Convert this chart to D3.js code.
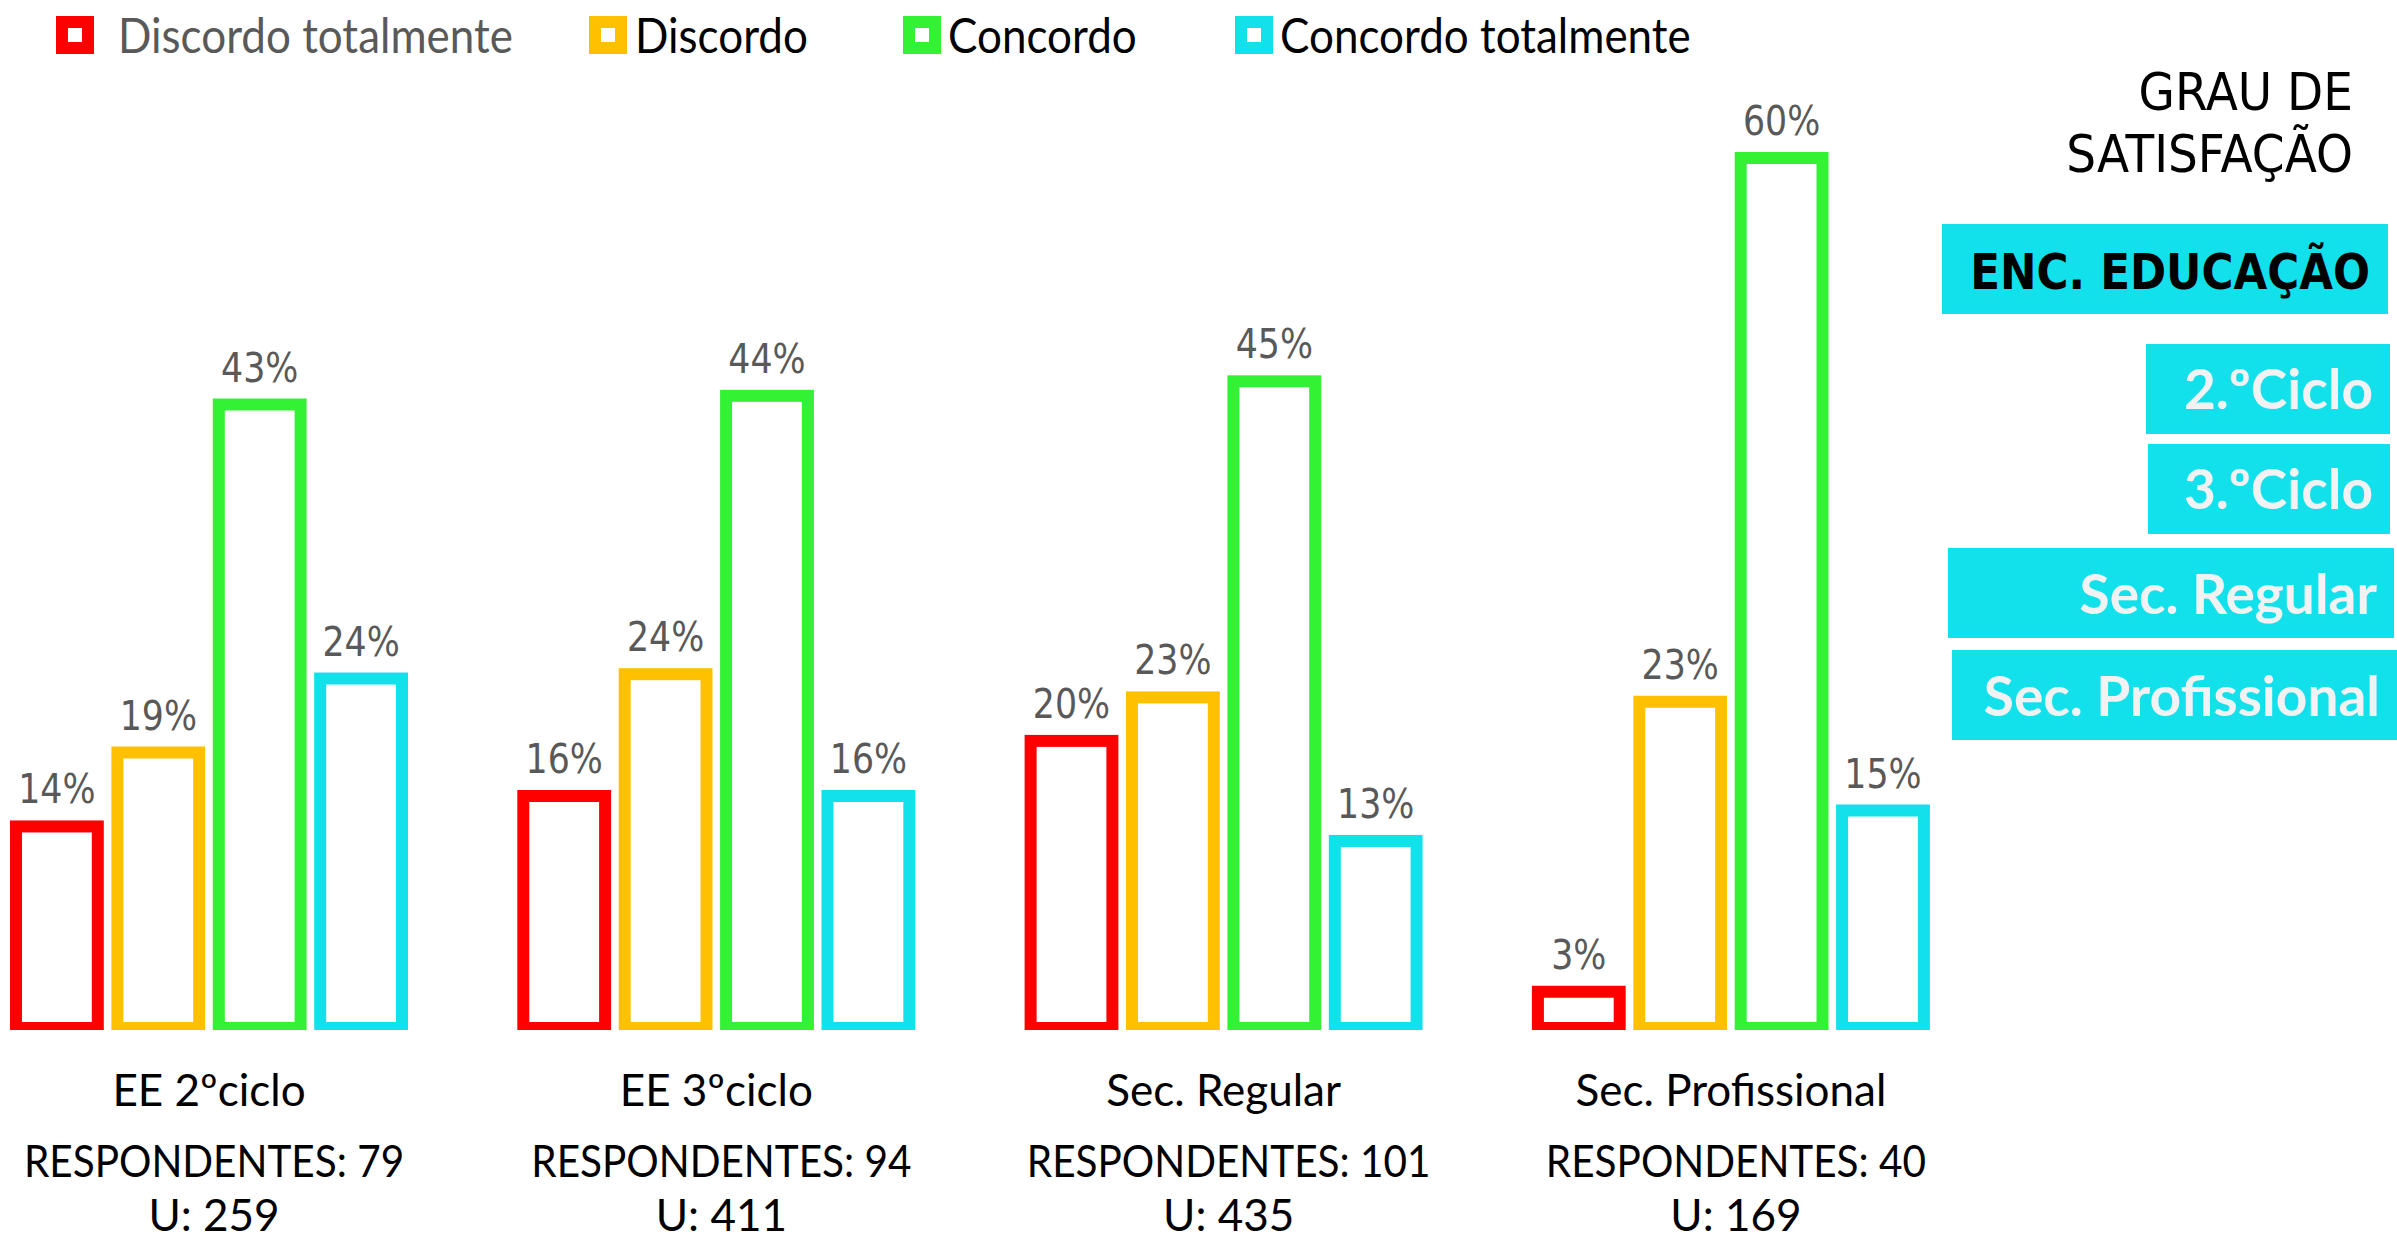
<!DOCTYPE html>
<html>
<head>
<meta charset="utf-8">
<script src="https://cdn.jsdelivr.net/npm/d3@7/dist/d3.min.js"></script>
<style>
  html, body { margin: 0; padding: 0; background: #ffffff; }
  svg { display: block; }
</style>
</head>
<body>
<script>
// ---------------- DATA ----------------
const categories = ["EE 2ºciclo", "EE 3ºciclo", "Sec. Regular", "Sec. Profissional"];
const series = ["Discordo totalmente", "Discordo", "Concordo", "Concordo totalmente"];
const discordoTotalmente = [13.9, 16.0, 19.8, 2.5];
const discordo = [19.0, 24.4, 22.8, 22.5];
const concordo = [43.0, 43.6, 44.6, 60.0];
const concordoTotalmente = [24.1, 16.0, 12.9, 15.0];
const respondentes = [79, 94, 101, 40];
const universo = [259, 411, 435, 169];
const panelTitle = ["GRAU DE", "SATISFAÇÃO"];
const panelHeader = "ENC. EDUCAÇÃO";
const panelItems = ["2.ºCiclo", "3.ºCiclo", "Sec. Regular", "Sec. Profissional"];
const seriesColors = ["#FF0000", "#FFC000", "#33F133", "#12E1EB"];

const seriesValues = [discordoTotalmente, discordo, concordo, concordoTotalmente];

// ---------------- LAYOUT ----------------
const W = 2397, H = 1239;
const svg = d3.select("body").append("svg").attr("width", W).attr("height", H);

const groupStart = -44.6, groupStep = 507.3;
const x0 = d3.scaleBand().domain(categories)
  .range([groupStart, groupStart + groupStep * categories.length]).padding(0);
const x1 = d3.scaleBand().domain(series).range([54.6, 452.6]).paddingInner(0.075);
const baseY = 1028;
const y = d3.scaleLinear().domain([0, 100]).range([baseY, baseY - 1450]);
const SW = 12;

svg.append("defs").append("clipPath").attr("id", "plotclip")
  .append("rect").attr("x", 0).attr("y", 0).attr("width", W).attr("height", 1030);

const rows = [];
categories.forEach((c, ci) => {
  series.forEach((s, si) => {
    rows.push({ c, s, si, v: seriesValues[si][ci] });
  });
});

const plot = svg.append("g").attr("clip-path", "url(#plotclip)");
plot.selectAll("rect.bar").data(rows).join("rect")
  .attr("class", "bar")
  .attr("x", d => x0(d.c) + x1(d.s) + SW / 2)
  .attr("width", x1.bandwidth() - SW)
  .attr("y", d => y(d.v))
  .attr("height", d => y(0) - y(d.v))
  .attr("fill", "#ffffff")
  .attr("stroke", d => seriesColors[d.si])
  .attr("stroke-width", SW);

// value labels
svg.selectAll("g.vlabel").data(rows).join("g")
  .attr("class", "vlabel")
  .attr("transform", d => `translate(${x0(d.c) + x1(d.s) + x1.bandwidth() / 2},${y(d.v) - 23}) scale(1,1.18)`)
  .append("text")
  .attr("text-anchor", "middle")
  .attr("font-family", "'DejaVu Sans', Verdana, sans-serif")
  .attr("font-size", 34.8)
  .attr("fill", "#595959")
  .text(d => Math.round(d.v) + "%");

// category labels
const catG = svg.append("g").attr("font-family", "Lato, 'Open Sans', sans-serif").attr("fill", "#000");
catG.selectAll("text.cat").data(categories).join("text")
  .attr("class", "cat")
  .attr("x", c => x0(c) + x0.bandwidth() / 2)
  .attr("y", 1106)
  .attr("font-size", 44)
  .attr("text-anchor", "middle")
  .text(c => c);
catG.selectAll("g.resp").data(categories).join("g")
  .attr("class", "resp")
  .attr("transform", c => `translate(${x0(c) + x0.bandwidth() / 2 + 5},1177) scale(1,1.08)`)
  .append("text")
  .attr("font-size", 40.5)
  .attr("text-anchor", "middle")
  .text((c, i) => "RESPONDENTES: " + respondentes[i]);
catG.selectAll("text.univ").data(categories).join("text")
  .attr("class", "univ")
  .attr("x", c => x0(c) + x0.bandwidth() / 2 + 5)
  .attr("y", 1231)
  .attr("font-size", 44)
  .attr("text-anchor", "middle")
  .text((c, i) => "U: " + universo[i]);

// legend
const legMarkX = [56, 589, 903, 1235];
const legTextX = [118, 635, 948, 1280];
const leg = svg.append("g");
series.forEach((s, i) => {
  leg.append("rect")
    .attr("x", legMarkX[i] + SW / 2).attr("y", 16 + SW / 2)
    .attr("width", 38 - SW).attr("height", 38 - SW)
    .attr("fill", "#ffffff").attr("stroke", seriesColors[i]).attr("stroke-width", SW);
  leg.append("g")
    .attr("transform", `translate(${legTextX[i]},53) scale(1,1.12)`)
    .append("text")
    .attr("font-family", "Lato, 'Open Sans', sans-serif")
    .attr("font-size", 44)
    .attr("fill", i === 0 ? "#595959" : "#000000")
    .text(s);
});

// right panel
const panel = svg.append("g");
const titleBaselines = [110, 172];
panelTitle.forEach((t, i) => {
  panel.append("g")
    .attr("transform", `translate(2353,${titleBaselines[i]}) scale(1,1.08)`)
    .append("text")
    .attr("text-anchor", "end")
    .attr("font-family", "'DejaVu Sans', Verdana, sans-serif")
    .attr("font-size", 47)
    .attr("fill", "#000")
    .text(t);
});

const boxColor = "#12E1EB";
panel.append("rect").attr("x", 1942).attr("y", 224).attr("width", 446).attr("height", 90).attr("fill", boxColor);
panel.append("g")
  .attr("transform", `translate(2370,289) scale(1,1.16)`)
  .append("text")
  .attr("text-anchor", "end")
  .attr("font-family", "'DejaVu Sans', Verdana, sans-serif")
  .attr("font-weight", "bold")
  .attr("font-size", 43.6)
  .attr("fill", "#000")
  .text(panelHeader);

const itemBoxes = [
  { x: 2146, y: 344, w: 244 },
  { x: 2148, y: 444, w: 242 },
  { x: 1948, y: 548, w: 446 },
  { x: 1952, y: 650, w: 445 }
];
const itemBaselines = [409, 509, 614, 716];
panelItems.forEach((t, i) => {
  const b = itemBoxes[i];
  panel.append("rect").attr("x", b.x).attr("y", b.y).attr("width", b.w).attr("height", 90).attr("fill", boxColor);
  panel.append("text")
    .attr("x", b.x + b.w - 17)
    .attr("y", itemBaselines[i])
    .attr("text-anchor", "end")
    .attr("font-family", "Lato, 'Open Sans', sans-serif")
    .attr("font-weight", 700)
    .attr("font-size", 55)
    .attr("fill", "#F2F2F2")
    .text(t);
});
</script>
</body>
</html>
